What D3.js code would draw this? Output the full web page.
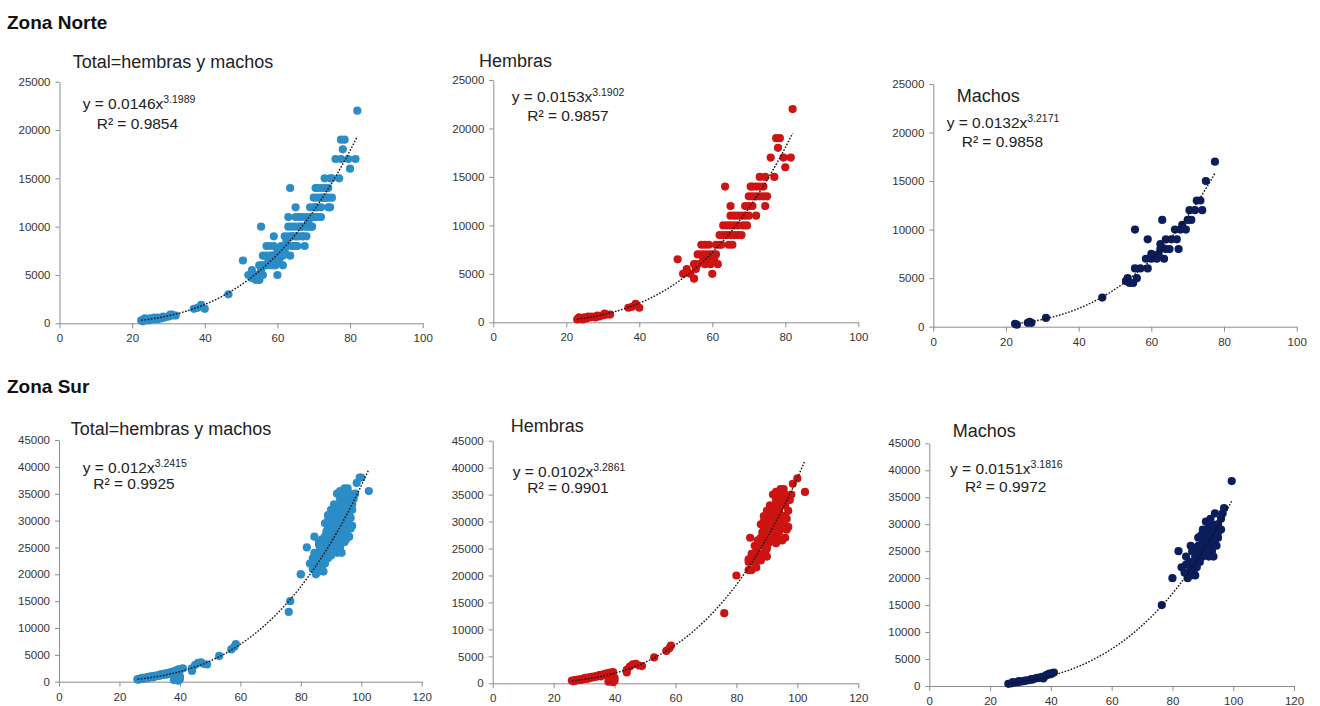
<!DOCTYPE html>
<html>
<head>
<meta charset="utf-8">
<script src="https://cdn.jsdelivr.net/npm/d3@7"></script>
<style>
body{margin:0;background:#fff;}
text{font-family:Arial,"Liberation Sans",sans-serif;}
</style>
</head>
<body>
<svg width="1320" height="706"></svg>
<script>
// peso vs longitud
var norteHembras = [
 [23,300],[23.5,500],[24,400],[24.5,300],[25,500],[25.5,400],[26,600],[26.5,500],[27,600],[28,500],[28.5,700],[29,600],
 [30,700],[30.5,900],[31,800],[32,800],[37,1500],[38,1600],[39,1900],[40,1500],
 [50.5,6500],[52,5000],[53,5500],[54,5000],[55,4500],[55,6000],[55.5,5500],[56,6000],[56,7000],[57,7000],[57,8000],[57.5,6500],
 [58,6000],[58,7000],[58,8000],[59,6500],[59,7000],[59,8000],[59.5,6000],[60,5000],[60,7000],[60.5,6500],[61,7000],[61,8000],
 [61.5,6000],[62,8000],[62,9000],[62.5,8000],[63,9000],[63,10000],[63.5,14000],[64,9000],[64,10000],[65,12000],[64.5,8000],
 [65,9000],[65,10000],[65,11000],[65.5,8000],[66,9000],[66,10000],[66,11000],[67,10000],[67,11000],[67,9000],[68,9000],
 [68,11000],[68.5,10000],[69,11000],[69,12000],[69.5,10000],[70,11000],[70,12000],[70,13000],[70.5,14000],[71,12000],[71,13000],
 [71,14000],[72,13000],[72,14000],[72,11000],[73,13000],[73,14000],[73,15000],[74,13000],[74,14000],[74.5,12000],[74.5,15000],
 [75,13000],[76,17000],[77,15000],[77.5,19000],[78,18000],[78.5,19000],[79.5,17000],[80,16000],[81.5,17000],[82,22000]
];
var norteMachos = [
 [22.5,300],[23,200],[26,400],[26.5,500],[27,400],[31,900],[46.5,3000],[53,4700],[53.5,5000],[54,4500],[55,4500],[56,5000],
 [55.5,6000],[57,6000],[59,6000],[55.5,10000],[58.5,7000],[60,7000],[61.5,7000],[60,7500],[62,7500],[63.5,7000],[59,9000],
 [62.5,8000],[64,8000],[65,8000],[64,9000],[65.5,9000],[67,9000],[62.5,8500],[67.5,8000],[63,11000],[66.5,10000],[68,10000],
 [69.5,10000],[68.5,10500],[70,11000],[71,11000],[70.5,12000],[72,12000],[74,12000],[72.5,13000],[73.5,13000],[75,15000],[77.5,17000]
];
var surHembras = [
 [26,500],[26.5,400],[27,600],[27.5,500],[28,700],[28.5,600],[29,800],[29.5,700],[30,900],[30.5,1000],[31,800],[31.5,1100],
 [32,1000],[32.5,1200],[33,1100],[33.5,1300],[34,1200],[34.5,1400],[35,1500],[35.5,1300],[36,1600],[36.5,1500],[37,1800],
 [37.5,1700],[38,1900],[38.5,2000],[39,1800],[39.5,2100],[38,300],[39,600],[39.5,200],[40,1000],[40,500],
 [44,2000],[44,2500],[45,3100],[46,3500],[47,3600],[48,3300],[49,3200],[53,4800],[57,6000],[58,6500],[58.5,7000],
 [76,13000],[80,20000],[84,21000],[84.5,21000],[84,22500],[84.5,27000],[84,23000],[85,24000],
 [85,21000],[85.5,22500],[86,22500],[86,23000],[87,22800],[88,22800],[87,24000],[86.5,24500],[87.5,25500],[88,26000],[88.5,24000],
 [86,25500],[86.5,21500],[87,26500],[87.5,23000],[88,29500],[89,31000],[90,32000],[90,23500],[91,33000],[92,35000],[93,35500],
 [88,27000],[88.5,28000],[89,26000],[89,29000],[89.5,27500],[89,30000],[90,25000],[90,27000],[90,28500],[90.5,30000],[91,26500],
 [91,29000],[91,31000],[91.5,32000],[92,27000],[92,28000],[92,30000],[92,32500],[92.5,33000],[93,26000],[93,29000],[93,31000],
 [93,34000],[93.5,27000],[94,28000],[94,30000],[94,32000],[94,33500],[94.5,36000],[95,26500],[95,29000],[95,31000],[95,34000],
 [95.5,30000],[95.5,36000],[96,27000],[96,31000],[96,33000],[96.5,30500],[97,34500],[97,29000],[97.5,34000],[98,35000],
 [94,35000],[96,35000],[97,32000],[96.5,28500],[91.5,28000],[92.5,29500],[93.5,32500],[89.5,24500],[90.5,26000],
 [98.5,37000],[100,38000],[102.5,35500]
];
var surMachos = [
 [26,400],[27,500],[27.5,700],[28,600],[29,700],[29.5,900],[30,800],[31,900],[31.5,1000],[32,1000],[33,1100],[33.5,1300],
 [34,1200],[35,1400],[35.5,1500],[36,1500],[37,1700],[37.5,1400],[38,1800],[38.5,2000],[39,2100],[39.5,2300],[40,2200],
 [40.5,2400],[41,2500],
 [76.5,15000],[80,20000],[82,25000],[83,22000],[84.5,24000],[86,26000],
 [85,20000],[85.5,21000],[86,20500],[86,22000],[86.5,23000],[87,21500],[87,22500],[87.5,24000],[88,22000],[88,23500],[88,25000],
 [88.5,26000],[89,23000],[89,24500],[89,26000],[89.5,25000],[90,24000],[90,25500],[90,27000],[90.5,26000],[91,25000],[91,27500],
 [91,29000],[91.5,26500],[92,24000],[92,26000],[92,28000],[92,30000],[92.5,27000],[93,25000],[93,26500],[93,29000],[93.5,28000],
 [84,21000],[84.5,22500],[85.5,23000],[87,25500],[88.5,27500],[89.5,28000],[90,29000],[91,30500],[92.5,31000],[93,30000],
 [94.5,26000],[95,27500],[96,31000],[87.5,20500],[86.5,25000],[93.5,24000],[95,28500],
 [94,27000],[94,29500],[94,32000],[95,30000],[95.5,29000],[96,29000],[96.5,32000],[97,33000],[99.5,38000]
];
// total = hembras + machos
var norteTotal = norteHembras.concat(norteMachos);
var surTotal = surHembras.concat(surMachos);

var xTicksNorte = [0,20,40,60,80,100];
var yTicksNorte = [0,5000,10000,15000,20000,25000];
var xTicksSur = [0,20,40,60,80,100,120];
var yTicksSur = [0,5000,10000,15000,20000,25000,30000,35000,40000,45000];

var titles = ["Total=hembras y machos","Hembras","Machos"];
// ajuste potencial y = a x^b
var coefA = ["0.0146","0.0153","0.0132","0.012","0.0102","0.0151"];
var coefB = ["3.1989","3.1902","3.2171","3.2415","3.2861","3.1816"];
var coefR2 = ["0.9854","0.9857","0.9858","0.9925","0.9901","0.9972"];

var blue="#2b8cc6", red="#cc1412", navy="#0c1d5c";

var svg = d3.select("svg");

svg.append("text").attr("x",7).attr("y",29).attr("font-size","19px").attr("font-weight","bold").attr("fill","#111").text("Zona Norte");
svg.append("text").attr("x",7).attr("y",393).attr("font-size","19px").attr("font-weight","bold").attr("fill","#111").text("Zona Sur");

var panels = [
 {x0:59.5,x1:422.7,y0:81.7,y1:323.3,xt:xTicksNorte,yt:yTicksNorte,data:norteTotal,color:blue,t:0,tp:[72.7,68],ep:[82.7,109.3],rp:[96.7,129]},
 {x0:493.3,x1:858.3,y0:80,y1:322.3,xt:xTicksNorte,yt:yTicksNorte,data:norteHembras,color:red,t:1,tp:[479,67],ep:[511.7,101.7],rp:[527.3,121]},
 {x0:933.3,x1:1296.7,y0:84,y1:326.7,xt:xTicksNorte,yt:yTicksNorte,data:norteMachos,color:navy,t:2,tp:[956.7,101.7],ep:[946.7,128.3],rp:[961.7,147.3]},
 {x0:59,x1:421.7,y0:440,y1:681.7,xt:xTicksSur,yt:yTicksSur,data:surTotal,color:blue,t:0,tp:[70.7,435],ep:[82.7,473],rp:[93.3,488.5]},
 {x0:492.7,x1:858.3,y0:440.7,y1:683.3,xt:xTicksSur,yt:yTicksSur,data:surHembras,color:red,t:1,tp:[510.7,431.7],ep:[512.7,476.7],rp:[527.3,493.3]},
 {x0:929.3,x1:1294,y0:443.3,y1:686,xt:xTicksSur,yt:yTicksSur,data:surMachos,color:navy,t:2,tp:[952.7,437.3],ep:[950,474],rp:[965,491.7]}
];

panels.forEach(function(p,i){
  var xs = d3.scaleLinear().domain([0,d3.max(p.xt)]).range([p.x0,p.x1]);
  var ys = d3.scaleLinear().domain([0,d3.max(p.yt)]).range([p.y1,p.y0]);
  var g = svg.append("g");

  var ax = g.append("g").attr("transform","translate(0,"+p.y1+")")
    .call(d3.axisBottom(xs).tickValues(p.xt).tickFormat(d3.format("d")).tickSize(5).tickSizeOuter(0).tickPadding(6));
  var ay = g.append("g").attr("transform","translate("+p.x0+",0)")
    .call(d3.axisLeft(ys).tickValues(p.yt).tickFormat(d3.format("d")).tickSize(4).tickSizeOuter(0).tickPadding(5));
  [ax,ay].forEach(function(a){
    a.select(".domain").attr("stroke","#8c8c8c");
    a.selectAll(".tick line").attr("stroke","#8c8c8c");
    a.selectAll(".tick text").attr("fill","#333").attr("font-size","11.5px").attr("font-family","Arial, 'Liberation Sans', sans-serif");
  });

  g.selectAll("circle").data(p.data).enter().append("circle")
    .attr("cx",function(d){return xs(d[0]);})
    .attr("cy",function(d){return ys(d[1]);})
    .attr("r",4.1)
    .attr("fill",p.color);

  // linea de tendencia
  var a = +coefA[i], b = +coefB[i];
  var xmin = d3.min(p.data,function(d){return d[0];}), xmax = d3.max(p.data,function(d){return d[0];});
  var pts = d3.range(xmin,xmax+0.01,0.5).map(function(v){return [v, a*Math.pow(v,b)];});
  g.append("path").datum(pts)
    .attr("fill","none").attr("stroke","#111").attr("stroke-width",1.4).attr("stroke-dasharray","1.6,1.6")
    .attr("d",d3.line().x(function(d){return xs(d[0]);}).y(function(d){return ys(d[1]);}));

  g.append("text").attr("x",p.tp[0]).attr("y",p.tp[1]).attr("font-size","18px").attr("fill","#222").text(titles[p.t]);

  var eq = g.append("text").attr("x",p.ep[0]).attr("y",p.ep[1]).attr("font-size","15.5px").attr("fill","#222");
  eq.append("tspan").text("y = "+coefA[i]+"x");
  eq.append("tspan").attr("dy",-6).attr("font-size","10.5px").text(coefB[i]);
  g.append("text").attr("x",p.rp[0]).attr("y",p.rp[1]).attr("font-size","15.5px").attr("fill","#222").text("R\u00b2 = "+coefR2[i]);
});
</script>
</body>
</html>
